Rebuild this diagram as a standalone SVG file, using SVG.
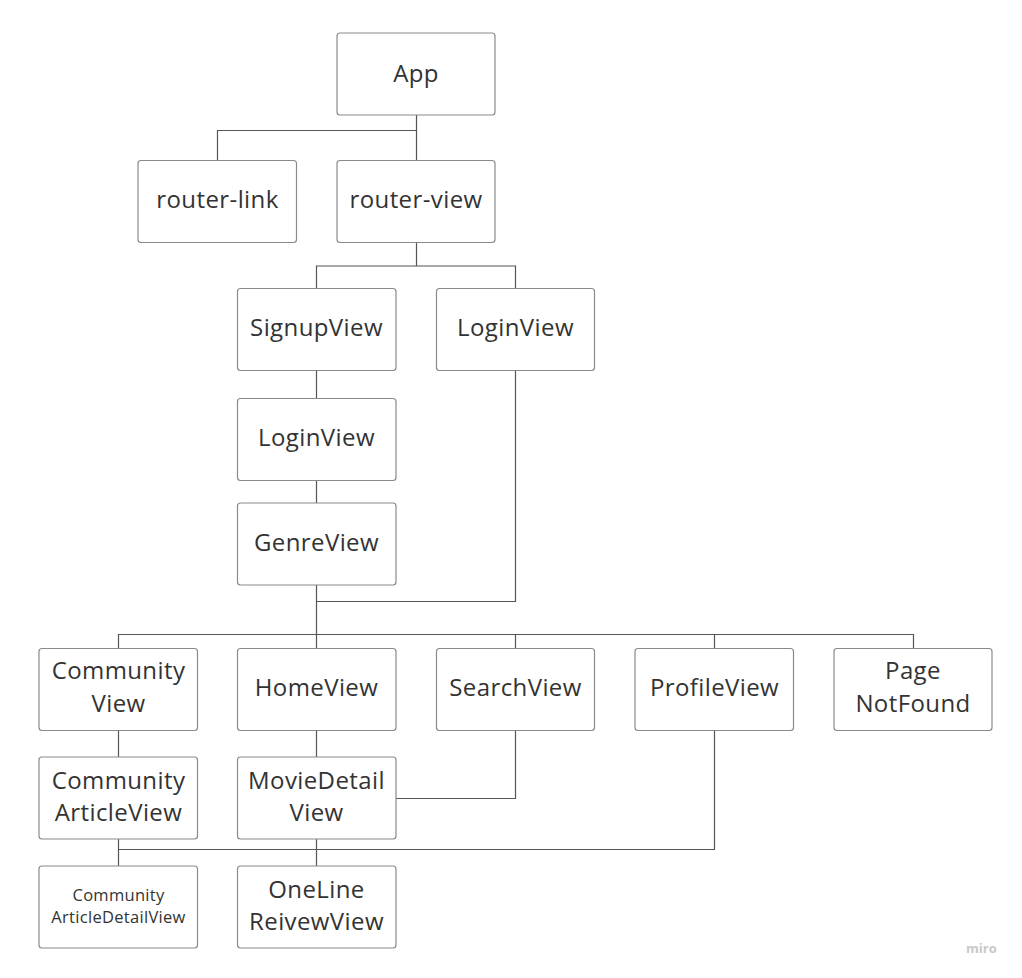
<svg xmlns="http://www.w3.org/2000/svg" width="1022" height="978" viewBox="0 0 1022 978">
<style>
.n rect{fill:#fff;stroke:#8a8a8a;stroke-width:1.2}
.n text{font-family:"Open Sans","Noto Sans",sans-serif;font-size:24px;letter-spacing:0.4px;fill:#333;text-anchor:middle}
.n text.s{font-size:16.5px;letter-spacing:0.3px}
#connectors path{fill:none;stroke:#555;stroke-width:1.2}
.wm{font-family:"Open Sans","Noto Sans",sans-serif;font-size:13px;font-weight:bold;fill:#c8c8c8}
</style>
<rect width="1022" height="978" fill="#fff"/>
<g id="connectors">
<path d="M416.5 115V160M416.5 130.5H217.5V160"/>
<path d="M416.5 242V266M316.5 288V266H515.5V288"/>
<path d="M316.5 370V398M316.5 480V503"/>
<path d="M316.5 585V648M515.5 370V601.5H316.5"/>
<path d="M118.5 648V634.5H913.5V648M515.5 634.5V648M714.5 634.5V648"/>
<path d="M118.5 730V757M316.5 730V757"/>
<path d="M515.5 730V798.5H396"/>
<path d="M714.5 730V849.5H118.5"/>
<path d="M118.5 839V866M316.5 839V866"/>
</g>
<g id="app" class="n"><rect x="337" y="33" width="158" height="82" rx="3"/><text x="416" y="82">App</text></g>
<g id="router-link" class="n"><rect x="138" y="160.5" width="158.5" height="82" rx="3"/><text x="217.5" y="207.5">router-link</text></g>
<g id="router-view" class="n"><rect x="337" y="160.5" width="158" height="82" rx="3"/><text x="416" y="207.5">router-view</text></g>
<g id="signup" class="n"><rect x="237.5" y="288.5" width="158.5" height="82" rx="3"/><text x="316.5" y="335.5">SignupView</text></g>
<g id="login-right" class="n"><rect x="436.5" y="288.5" width="158" height="82" rx="3"/><text x="515.5" y="335.5">LoginView</text></g>
<g id="login" class="n"><rect x="237.5" y="398.5" width="158.5" height="82" rx="3"/><text x="316.5" y="445.5">LoginView</text></g>
<g id="genre" class="n"><rect x="237.5" y="503" width="158.5" height="82" rx="3"/><text x="316.5" y="550.5">GenreView</text></g>
<g id="community" class="n"><rect x="39" y="648.5" width="158.5" height="82" rx="3"/><text x="118.5" y="679">Community</text><text x="118.5" y="712">View</text></g>
<g id="home" class="n"><rect x="237.5" y="648.5" width="158.5" height="82" rx="3"/><text x="316.5" y="695.5">HomeView</text></g>
<g id="search" class="n"><rect x="436.5" y="648.5" width="158" height="82" rx="3"/><text x="515.5" y="695.5">SearchView</text></g>
<g id="profile" class="n"><rect x="635" y="648.5" width="158.5" height="82" rx="3"/><text x="714.5" y="695.5">ProfileView</text></g>
<g id="notfound" class="n"><rect x="834" y="648.5" width="158" height="82" rx="3"/><text x="913" y="679">Page</text><text x="913" y="712">NotFound</text></g>
<g id="community-article" class="n"><rect x="39" y="757" width="158.5" height="82" rx="3"/><text x="118.5" y="789">Community</text><text x="118.5" y="821">ArticleView</text></g>
<g id="movie-detail" class="n"><rect x="237.5" y="757" width="158.5" height="82" rx="3"/><text x="316.5" y="789">MovieDetail</text><text x="316.5" y="821">View</text></g>
<g id="community-article-detail" class="n"><rect x="39" y="866" width="158.5" height="82" rx="3"/><text class="s" x="118.5" y="901">Community</text><text class="s" x="118.5" y="923">ArticleDetailView</text></g>
<g id="oneline-review" class="n"><rect x="237.5" y="866" width="158.5" height="82" rx="3"/><text x="316.5" y="898">OneLine</text><text x="316.5" y="930">ReivewView</text></g>
<text class="wm" x="966" y="953">miro</text>
</svg>
